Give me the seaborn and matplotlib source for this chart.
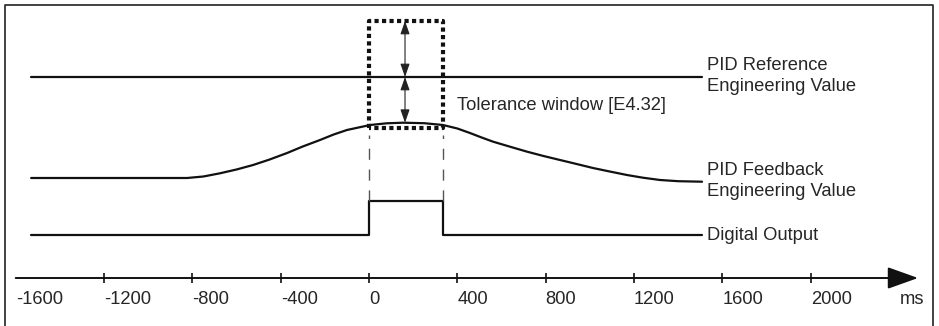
import numpy as np
import pandas as pd
import matplotlib
matplotlib.use("Agg")
import matplotlib.pyplot as plt
import seaborn as sns

# time axis (ms)
tick_values = [-1600, -1200, -800, -400, 0, 400, 800, 1200, 1600, 2000]
axis_unit = "ms"

# signal levels (arbitrary units, time axis at 0)
ref_time = [-1530, 1508]
ref_level = [201, 201]

fb_time = [-1530, -824, -750, -675, -600, -525, -450, -371, -300, -222, -160, -100,
           5, 80, 154, 250, 335, 400, 457, 510, 562, 640, 716, 790, 865, 940,
           1014, 1090, 1168, 1240, 1318, 1400, 1508]
fb_level = [100, 100, 101.5, 104.7, 108.5, 113, 118.5, 125, 131.5, 138, 143.5, 148,
            153, 154.7, 155.3, 154.8, 153, 149.5, 145, 140.5, 136.3, 131.2, 126.3, 122, 118, 114,
            110, 106.5, 103, 100.3, 98, 96.8, 96.3]

do_time = [-1530, 0, 0, 335, 335, 1508]
do_level = [43, 43, 77, 77, 43, 43]

# tolerance window
win_start, win_end = 0, 335
win_low, win_high = 150.5, 257
arrow_time = 163
fb_peak = 155.3

sns.set_style("white")
plt.rcParams["font.family"] = ["Liberation Sans", "DejaVu Sans"]
fs = 13.2

fig = plt.figure(figsize=(9.39, 3.26), dpi=100)
ax = fig.add_axes([0, 0, 1, 1])
ax.set_xlim(-1671, 2581)
ax.set_ylim(-48, 278)
ax.axis("off")

lw = 1.6
for tt, lv in [(ref_time, ref_level), (fb_time, fb_level), (do_time, do_level)]:
    sns.lineplot(x=tt, y=lv, ax=ax, color="#111111", lw=lw, sort=False,
                 estimator=None, errorbar=None)

# dashed guides from window edges to the output pulse
for t in [win_start, win_end]:
    ax.plot([t, t], [do_level[2], 143], color="#555555", lw=1.0, ls=(0, (8, 7)))

# tolerance window box
bx = [win_start, win_start, win_end, win_end, win_start]
by = [win_low, win_high, win_high, win_low, win_low]
ax.plot(bx, by, color="#111111", lw=3, ls=(0, (1, 0.8)), dash_capstyle="butt")

# double arrows inside the window
for y0, y1 in [(win_high, ref_level[0]), (ref_level[0], fb_peak)]:
    ax.annotate("", xy=(arrow_time, y1), xytext=(arrow_time, y0),
                arrowprops=dict(arrowstyle="<|-|>,head_length=1.0,head_width=0.35",
                                color="#222222", lw=0.8, mutation_scale=8,
                                shrinkA=0, shrinkB=0))

# labels
ax.text(1531, 202, "PID Reference\nEngineering Value", fontsize=fs, va="center",
        ha="left", linespacing=1.35)
ax.text(398, 173, "Tolerance window [E4.32]", fontsize=fs, va="center", ha="left")
ax.text(1531, 97, "PID Feedback\nEngineering Value", fontsize=fs, va="center",
        ha="left", linespacing=1.35)
ax.text(1531, 43, "Digital Output", fontsize=fs, va="center", ha="left")

# time axis with arrow
ax.annotate("", xy=(2486, 0), xytext=(tick_values[0], 0),
            arrowprops=dict(arrowstyle="-|>,head_length=0.95,head_width=0.34",
                            color="#111111", lw=1.4, mutation_scale=20,
                            shrinkA=0, shrinkB=0))
ax.vlines(tick_values[1:], -5, 5, color="#111111", lw=1.2)
for t in tick_values:
    ax.text(t, -22, str(t), fontsize=fs, ha="left", va="center")
ax.text(2405, -22, axis_unit, fontsize=fs, ha="left", va="center")

# frame (open at the bottom)
ax.plot([5 / 939, 5 / 939, 933 / 939, 933 / 939], [0, 1 - 5 / 326, 1 - 5 / 326, 0],
        transform=ax.transAxes, color="#333333", lw=1.3, clip_on=False)

fig.savefig("out.png", dpi=100)
